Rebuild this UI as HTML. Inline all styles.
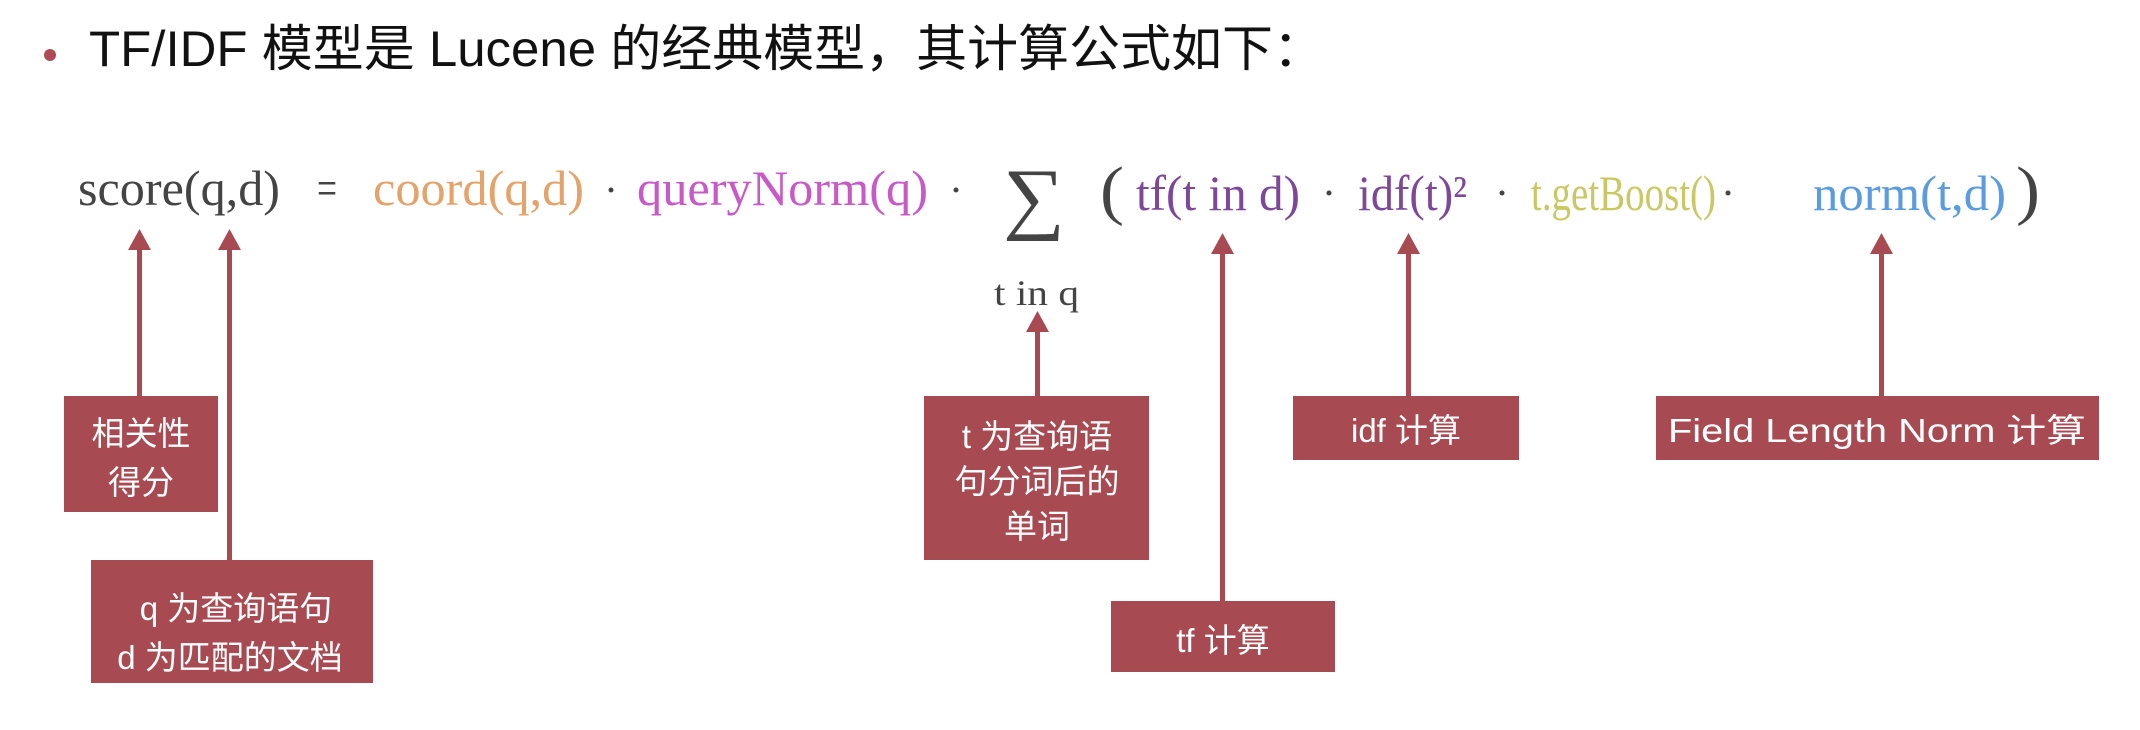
<!DOCTYPE html>
<html><head><meta charset="utf-8"><style>
html,body{margin:0;padding:0;background:#fff;}
svg{display:block;}
.f{font-family:"Liberation Serif",serif;font-size:50px;}
.c{font-family:"Liberation Sans","Noto Sans CJK SC",sans-serif;}
.bt{font-family:"Liberation Sans","Noto Sans CJK SC",sans-serif;font-size:33px;fill:#fff;text-anchor:middle;}
</style></head><body>
<svg width="2140" height="730" viewBox="0 0 2140 730" xmlns="http://www.w3.org/2000/svg">
<rect width="2140" height="730" fill="#fff"/>
<circle cx="50" cy="55" r="6" fill="#b04a55"/>
<text x="89" y="66" class="c" font-size="50" fill="#111" textLength="1235" lengthAdjust="spacingAndGlyphs">TF/IDF 模型是 Lucene 的经典模型，其计算公式如下：</text>

<g class="f">
<text x="78" y="205" fill="#444" textLength="202" lengthAdjust="spacingAndGlyphs">score(q,d)</text>
<text x="317" y="205" fill="#444" textLength="20" lengthAdjust="spacingAndGlyphs">=</text>
<text x="373" y="205" fill="#e3a36a" textLength="211" lengthAdjust="spacingAndGlyphs">coord(q,d)</text>
<circle cx="611" cy="190" r="2.5" fill="#444"/>
<text x="637" y="205" fill="#c85ac8" textLength="291" lengthAdjust="spacingAndGlyphs">queryNorm(q)</text>
<circle cx="956" cy="190" r="2.5" fill="#444"/>
<text x="1003" y="224" fill="#444" font-size="80" textLength="62" lengthAdjust="spacingAndGlyphs">∑</text>
<text x="994" y="305" fill="#444" font-size="36" textLength="85" lengthAdjust="spacingAndGlyphs">t in q</text>
<text x="1100" y="212" fill="#444" font-size="66" textLength="24" lengthAdjust="spacingAndGlyphs">(</text>
<text x="1136" y="210" fill="#7e4898" textLength="164" lengthAdjust="spacingAndGlyphs">tf(t in d)</text>
<circle cx="1329" cy="193" r="2.5" fill="#444"/>
<text x="1358" y="210" fill="#7e4898" textLength="109" lengthAdjust="spacingAndGlyphs">idf(t)²</text>
<circle cx="1502" cy="193" r="2.5" fill="#444"/>
<text x="1531" y="210" fill="#c9c864" textLength="185" lengthAdjust="spacingAndGlyphs">t.getBoost()</text>
<circle cx="1728" cy="193" r="2.5" fill="#444"/>
<text x="1813" y="210" fill="#5b9be0" textLength="193" lengthAdjust="spacingAndGlyphs">norm(t,d)</text>
<text x="2016" y="212" fill="#444" font-size="66" textLength="24" lengthAdjust="spacingAndGlyphs">)</text>
</g>

<g fill="#a84a52" stroke="none">
<rect x="137" y="244" width="5" height="152"/><polygon points="139.5,229 128,250 151,250"/>
<rect x="227" y="244" width="5" height="316"/><polygon points="229.5,229 218,250 241,250"/>
<rect x="1035" y="326" width="5" height="70"/><polygon points="1037.5,311 1026,332 1049,332"/>
<rect x="1220" y="248" width="5" height="353"/><polygon points="1222.5,233 1211,254 1234,254"/>
<rect x="1406" y="248" width="5" height="148"/><polygon points="1408.5,233 1397,254 1420,254"/>
<rect x="1879" y="248" width="5" height="148"/><polygon points="1881.5,233 1870,254 1893,254"/>
<rect x="64" y="396" width="154" height="116"/>
<rect x="91" y="560" width="282" height="123"/>
<rect x="924" y="396" width="225" height="164"/>
<rect x="1111" y="601" width="224" height="71"/>
<rect x="1293" y="396" width="226" height="64"/>
<rect x="1656" y="396" width="443" height="64"/>
</g>

<text class="bt" x="141" y="445">相关性</text>
<text class="bt" x="141" y="494">得分</text>
<text class="bt" x="236" y="620">q 为查询语句</text>
<text class="bt" x="230" y="669">d 为匹配的文档</text>
<text class="bt" x="1037" y="448">t 为查询语</text>
<text class="bt" x="1037" y="493">句分词后的</text>
<text class="bt" x="1037" y="538">单词</text>
<text class="bt" x="1223" y="652">tf 计算</text>
<text class="bt" x="1406" y="442">idf 计算</text>
<text class="bt" x="1877" y="442" textLength="418" lengthAdjust="spacingAndGlyphs">Field Length Norm 计算</text>
</svg>
</body></html>
